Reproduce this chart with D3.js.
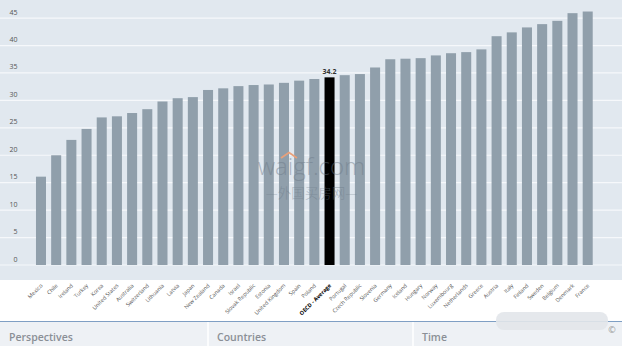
<!DOCTYPE html>
<html><head><meta charset="utf-8">
<script src="https://cdn.jsdelivr.net/npm/d3@7"></script>
<style>body{margin:0;background:#fff;}svg{display:block;font-family:"Open Sans","Noto Sans",sans-serif;}</style>
</head><body>
<svg id="c" width="622" height="346"></svg>
<script>
const countries = ["Mexico","Chile","Ireland","Turkey","Korea","United States","Australia","Switzerland","Lithuania","Latvia","Japan","New Zealand","Canada","Israel","Slovak Republic","Estonia","United Kingdom","Spain","Poland","OECD - Average","Portugal","Czech Republic","Slovenia","Germany","Iceland","Hungary","Norway","Luxembourg","Netherlands","Greece","Austria","Italy","Finland","Sweden","Belgium","Denmark","France"];
const values = [16.1,20.0,22.8,24.8,26.9,27.1,27.7,28.4,29.8,30.4,30.6,31.9,32.2,32.6,32.8,32.9,33.2,33.6,33.9,34.2,34.6,34.8,36.0,37.5,37.6,37.7,38.2,38.6,38.8,39.3,41.7,42.4,43.3,43.9,44.5,45.9,46.2];
const yTicks = [0,5,10,15,20,25,30,35,40,45];
const highlight = "OECD - Average";
const footerLabels = ["Perspectives","Countries","Time"];

const svg = d3.select("#c");
const W = 622;
svg.append("rect").attr("x",0).attr("y",0).attr("width",W).attr("height",280).attr("fill","#e1e8ef");

const x = d3.scaleBand().domain(countries).range([33.4,595.3]).paddingInner(0.34).paddingOuter(0.17);
const y = d3.scaleLinear().domain([0,45]).range([265,18.1]);

svg.append("g").selectAll("line").data(yTicks).join("line")
  .attr("x1",0).attr("x2",W).attr("y1",d=>y(d)).attr("y2",d=>y(d))
  .attr("stroke","#f6f8fb").attr("stroke-width",1.2);
svg.append("g").selectAll("text").data(yTicks).join("text")
  .attr("x",17.5).attr("y",d=>y(d)-3.5).attr("text-anchor","end")
  .attr("font-size",7).attr("fill","#555").text(d=>d);

svg.append("g").selectAll("rect").data(countries).join("rect")
  .attr("x",d=>x(d)).attr("width",x.bandwidth())
  .attr("y",(d,i)=>y(values[i])).attr("height",(d,i)=>y(0)-y(values[i]))
  .attr("fill",d=>d===highlight?"#000":"#909fab");

const hi = countries.indexOf(highlight);
svg.append("text").attr("x",x(highlight)+x.bandwidth()/2).attr("y",y(values[hi])-3.5)
  .attr("text-anchor","middle").attr("font-size",7).attr("font-weight","bold").attr("fill","#333")
  .text(values[hi].toFixed(1));

const wm = svg.append("g").attr("opacity",0.45);
wm.append("text").attr("x",311.5).attr("y",175).attr("text-anchor","middle").attr("font-size",24)
  .attr("fill","#6b7886").attr("font-weight",300).text("waigf.com");
wm.append("text").attr("x",311.5).attr("y",197.5).attr("text-anchor","middle").attr("font-size",13.5)
  .attr("fill","#6b7886").attr("font-family","Noto Sans CJK SC, sans-serif").attr("font-weight",300).text("—外国买房网—");
svg.append("path").attr("d","M281,158 L289,152.5 L297,158").attr("fill","none").attr("stroke","#e8a07a").attr("stroke-width",1.8);

svg.append("g").selectAll("text").data(countries).join("text")
  .attr("transform",d=>`translate(${x(d)+x.bandwidth()/2+2},${286}) rotate(-45)`)
  .attr("text-anchor","end").attr("font-size",5.5)
  .attr("fill",d=>d===highlight?"#000":"#555")
  .attr("font-weight",d=>d===highlight?"bold":"normal")
  .text(d=>d);

svg.append("rect").attr("x",0).attr("y",322).attr("width",W).attr("height",24).attr("fill","#eef1f5");
svg.append("line").attr("x1",0).attr("x2",W).attr("y1",321.5).attr("y2",321.5).attr("stroke","#7f9fc4").attr("stroke-width",1.2);
[208,413].forEach(px=>svg.append("line").attr("x1",px).attr("x2",px).attr("y1",322).attr("y2",346).attr("stroke","#fff").attr("stroke-width",1.5));
const fx=[9,217,422];
svg.append("g").selectAll("text").data(footerLabels).join("text")
  .attr("x",(d,i)=>fx[i]).attr("y",341).attr("font-size",10.5).attr("font-weight",600).attr("fill","#8a8f96").text(d=>d);
svg.append("text").attr("x",612).attr("y",333).attr("text-anchor","middle").attr("font-size",9).attr("fill","#999").text("©");
svg.append("rect").attr("x",496).attr("y",312).attr("width",112).attr("height",18).attr("rx",8).attr("fill","#e2e5ea").attr("opacity",0.9);
</script>
</body></html>
